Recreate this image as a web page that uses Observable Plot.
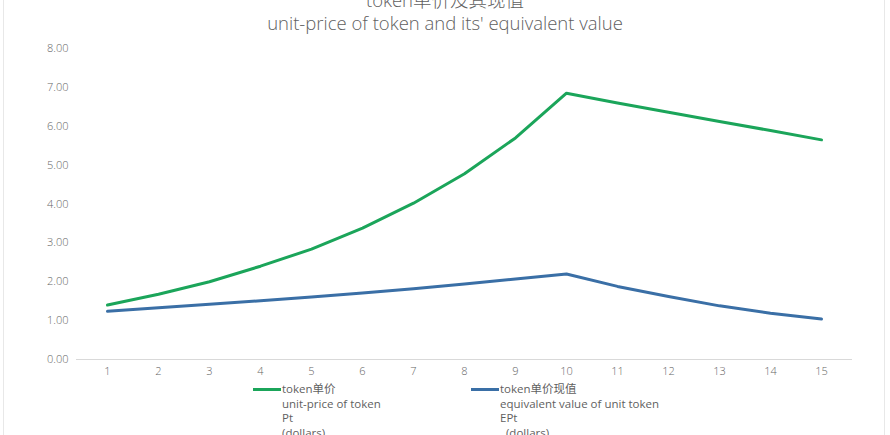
<!DOCTYPE html>
<html>
<head>
<meta charset="utf-8">
<script src="https://cdn.jsdelivr.net/npm/d3@7"></script>
<script src="https://cdn.jsdelivr.net/npm/@observablehq/plot@0.6"></script>
<style>
  html, body { margin: 0; padding: 0; background: #fff; }
  #wrap { position: relative; width: 890px; height: 435px; overflow: hidden; background: #fff;
          font-family: "Open Sans", "Noto Sans CJK SC", sans-serif; color: #595959; }
  .bl { position: absolute; top: 0; bottom: 0; width: 1px; background: #e8e8e8; }
  #title { position: absolute; left: 0; width: 890px; text-align: center; top: -12px;
           font-size: 18.5px; line-height: 23px; font-weight: 300; color: #5f5f5f; }
  #chart { position: absolute; left: 0; top: 0; }
  .leg { position: absolute; top: 382px; font-size: 11.5px; line-height: 14.5px; font-weight: 400; color: #5f5f5f; }
  .sw { position: absolute; top: 6px; width: 28px; height: 3px; }
  .lt { position: absolute; left: 29px; top: 0; white-space: pre; }
</style>
</head>
<body>
<div id="wrap">
  <div class="bl" style="left:3px"></div>
  <div class="bl" style="left:884px"></div>
  <div id="title"></div>
  <div id="chart"></div>
  <div id="legend"></div>
</div>
<script>
const titleLines = ["token单价及其现值", "unit-price of token and its' equivalent value"];
const periods = [1, 2, 3, 4, 5, 6, 7, 8, 9, 10, 11, 12, 13, 14, 15];
const unitPrice = [1.40, 1.68, 2.00, 2.40, 2.84, 3.38, 4.02, 4.78, 5.70, 6.85, 6.60, 6.36, 6.12, 5.89, 5.65];
const equivValue = [1.24, 1.33, 1.42, 1.51, 1.61, 1.71, 1.82, 1.94, 2.07, 2.20, 1.88, 1.62, 1.38, 1.19, 1.04];
const yTicks = [0, 1, 2, 3, 4, 5, 6, 7, 8];
const seriesNames = [
  ["token单价", "unit-price of token", "Pt", "(dollars)"],
  ["token单价现值", "equivalent value of unit token", "EPt", "  (dollars)"]
];
const colors = ["#1ba55a", "#3a6fa6"];

document.getElementById("title").innerHTML = titleLines.map(t => `<div>${t}</div>`).join("");

const data = [];
periods.forEach((p, i) => {
  data.push({period: p, value: unitPrice[i], series: seriesNames[0][0]});
  data.push({period: p, value: equivValue[i], series: seriesNames[1][0]});
});

const chart = Plot.plot({
  width: 890,
  height: 380,
  marginTop: 48,
  marginBottom: 21,
  marginLeft: 76,
  marginRight: 38,
  style: {fontFamily: "'Open Sans', 'Noto Sans CJK SC', sans-serif", fontSize: "11px", color: "#666", background: "transparent"},
  x: {type: "point", domain: periods, padding: 0.5, label: null},
  y: {domain: [0, 8], label: null},
  color: {domain: seriesNames.map(s => s[0]), range: colors},
  marks: [
    Plot.ruleY([0], {stroke: "#d9d9d9", strokeWidth: 1}),
    Plot.axisY({ticks: yTicks, tickSize: 0, tickPadding: 8, tickFormat: d => d.toFixed(2), fontWeight: 300}),
    Plot.axisX({tickSize: 0, tickPadding: 8, fontWeight: 300}),
    Plot.line(data, {x: "period", y: "value", z: "series", stroke: "series", strokeWidth: 3, curve: "linear", strokeLinejoin: "round"})
  ]
});
document.getElementById("chart").appendChild(chart);

const legendX = [253, 471];
document.getElementById("legend").innerHTML = seriesNames.map((lines, i) =>
  `<div class="leg" style="left:${legendX[i]}px"><div class="sw" style="background:${colors[i]}"></div><div class="lt">${lines.join("\n")}</div></div>`
).join("");
</script>
</body>
</html>
